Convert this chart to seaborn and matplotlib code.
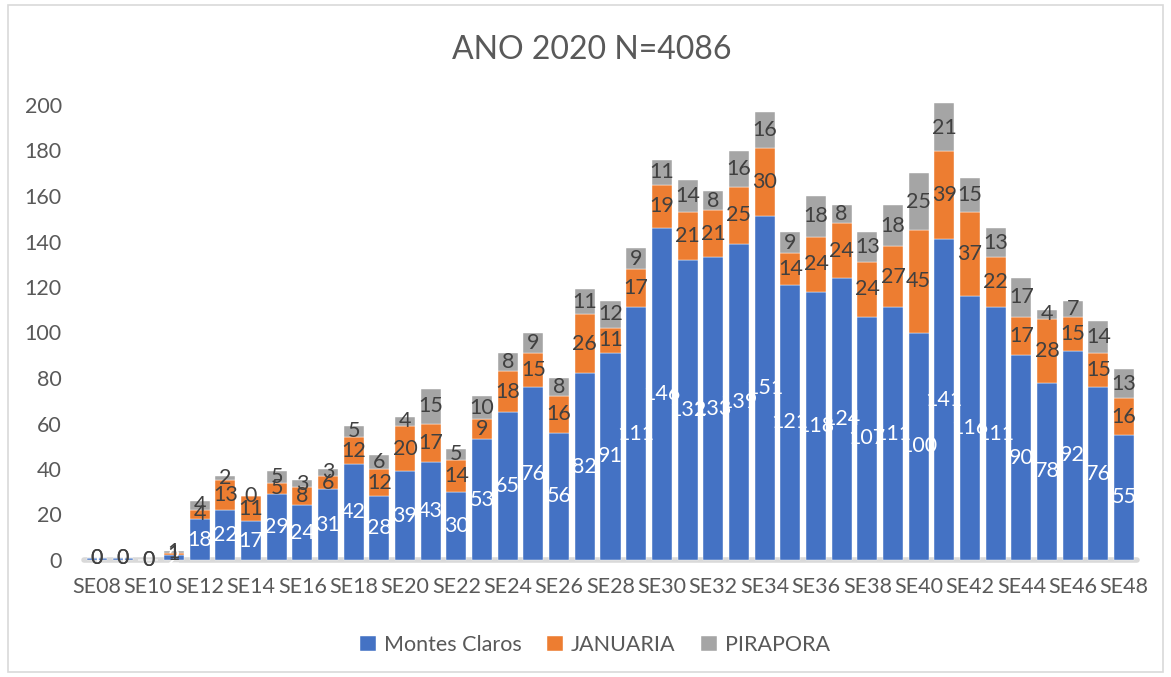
import matplotlib
matplotlib.use("Agg")
import matplotlib.pyplot as plt
from matplotlib.patches import Rectangle
import seaborn as sns
import numpy as np

# weeks SE08 .. SE48
weeks = ["SE%02d" % w for w in range(8, 49)]

montes_claros = [1, 1, 0, 2, 18, 22, 17, 29, 24, 31, 42, 28, 39, 43, 30,
                 53, 65, 76, 56, 82, 91, 111, 146, 132, 133, 139, 151,
                 121, 118, 124, 107, 111, 100, 141, 116, 111, 90, 78, 92, 76, 55]
januaria = [0, 0, 0, 1, 4, 13, 11, 5, 8, 6, 12, 12, 20, 17, 14,
            9, 18, 15, 16, 26, 11, 17, 19, 21, 21, 25, 30,
            14, 24, 24, 24, 27, 45, 39, 37, 22, 17, 28, 15, 15, 16]
pirapora = [0, 0, 0, 1, 4, 2, 0, 5, 3, 3, 5, 6, 4, 15, 5,
            10, 8, 9, 8, 11, 12, 9, 11, 14, 8, 16, 16,
            9, 18, 8, 13, 18, 25, 21, 15, 13, 17, 4, 7, 14, 13]

series = ["Montes Claros", "JANUARIA", "PIRAPORA"]
colors = ["#4472C4", "#ED7D31", "#A5A5A5"]
label_colors = ["white", "#404040", "#404040"]

sns.set_style("white")
plt.rcParams["font.family"] = ["Lato", "DejaVu Sans"]

fig = plt.figure(figsize=(11.71, 6.77), dpi=100)
ax = fig.add_axes([84 / 1171, 1 - 560 / 677, (1137 - 84) / 1171, (560 - 105) / 677])

values = [np.array(montes_claros), np.array(januaria), np.array(pirapora)]
bottom = np.zeros(len(weeks))
for vals, name, col, lcol in zip(values, series, colors, label_colors):
    sns.barplot(x=weeks, y=vals, bottom=bottom, color=col, saturation=1,
                width=0.78, errorbar=None, label=name, ax=ax,
                edgecolor="white", linewidth=0.3, zorder=2)
    cont = ax.containers[-1]
    ax.bar_label(cont, labels=[str(v) for v in vals], label_type="center",
                 color=lcol, fontsize=15.5)
    bottom = bottom + vals

for p in ax.patches:
    p.set_clip_on(False)

ax.set_ylim(0, 200)
ax.set_xlim(-0.5, len(weeks) - 0.5)
ax.set_yticks(range(0, 201, 20))
ax.set_xticks(range(0, len(weeks), 2))
ax.set_xticklabels(weeks[::2])
ax.tick_params(axis="both", length=0, labelsize=15.5, labelcolor="#595959")
ax.tick_params(axis="x", pad=12)
ax.tick_params(axis="y", pad=16)
for s in ax.spines.values():
    s.set_visible(False)
ax.axhline(0, color="#D9D9D9", lw=4, zorder=1, clip_on=False)
ax.set_xlabel("")
ax.set_ylabel("")
if ax.legend_:
    ax.legend_.remove()

handles, labels = ax.get_legend_handles_labels()
fig.legend(handles, labels, loc="center", bbox_to_anchor=(0.508, 1 - 645 / 677),
           ncol=3, frameon=False, fontsize=15.5, handlelength=0.75, handleheight=0.75,
           handletextpad=0.35, columnspacing=1.2, labelcolor="#595959")

fig.text(0.505, 1 - 50 / 677, "ANO 2020 N=4086", ha="center", va="center",
         fontsize=23, color="#595959")

fig.patches.append(Rectangle((8 / 1171, 5 / 677), (1163 - 8) / 1171, (672 - 5) / 677,
                             transform=fig.transFigure, fill=False,
                             edgecolor="#D9D9D9", lw=1.2))

fig.savefig("out.png", dpi=100)
